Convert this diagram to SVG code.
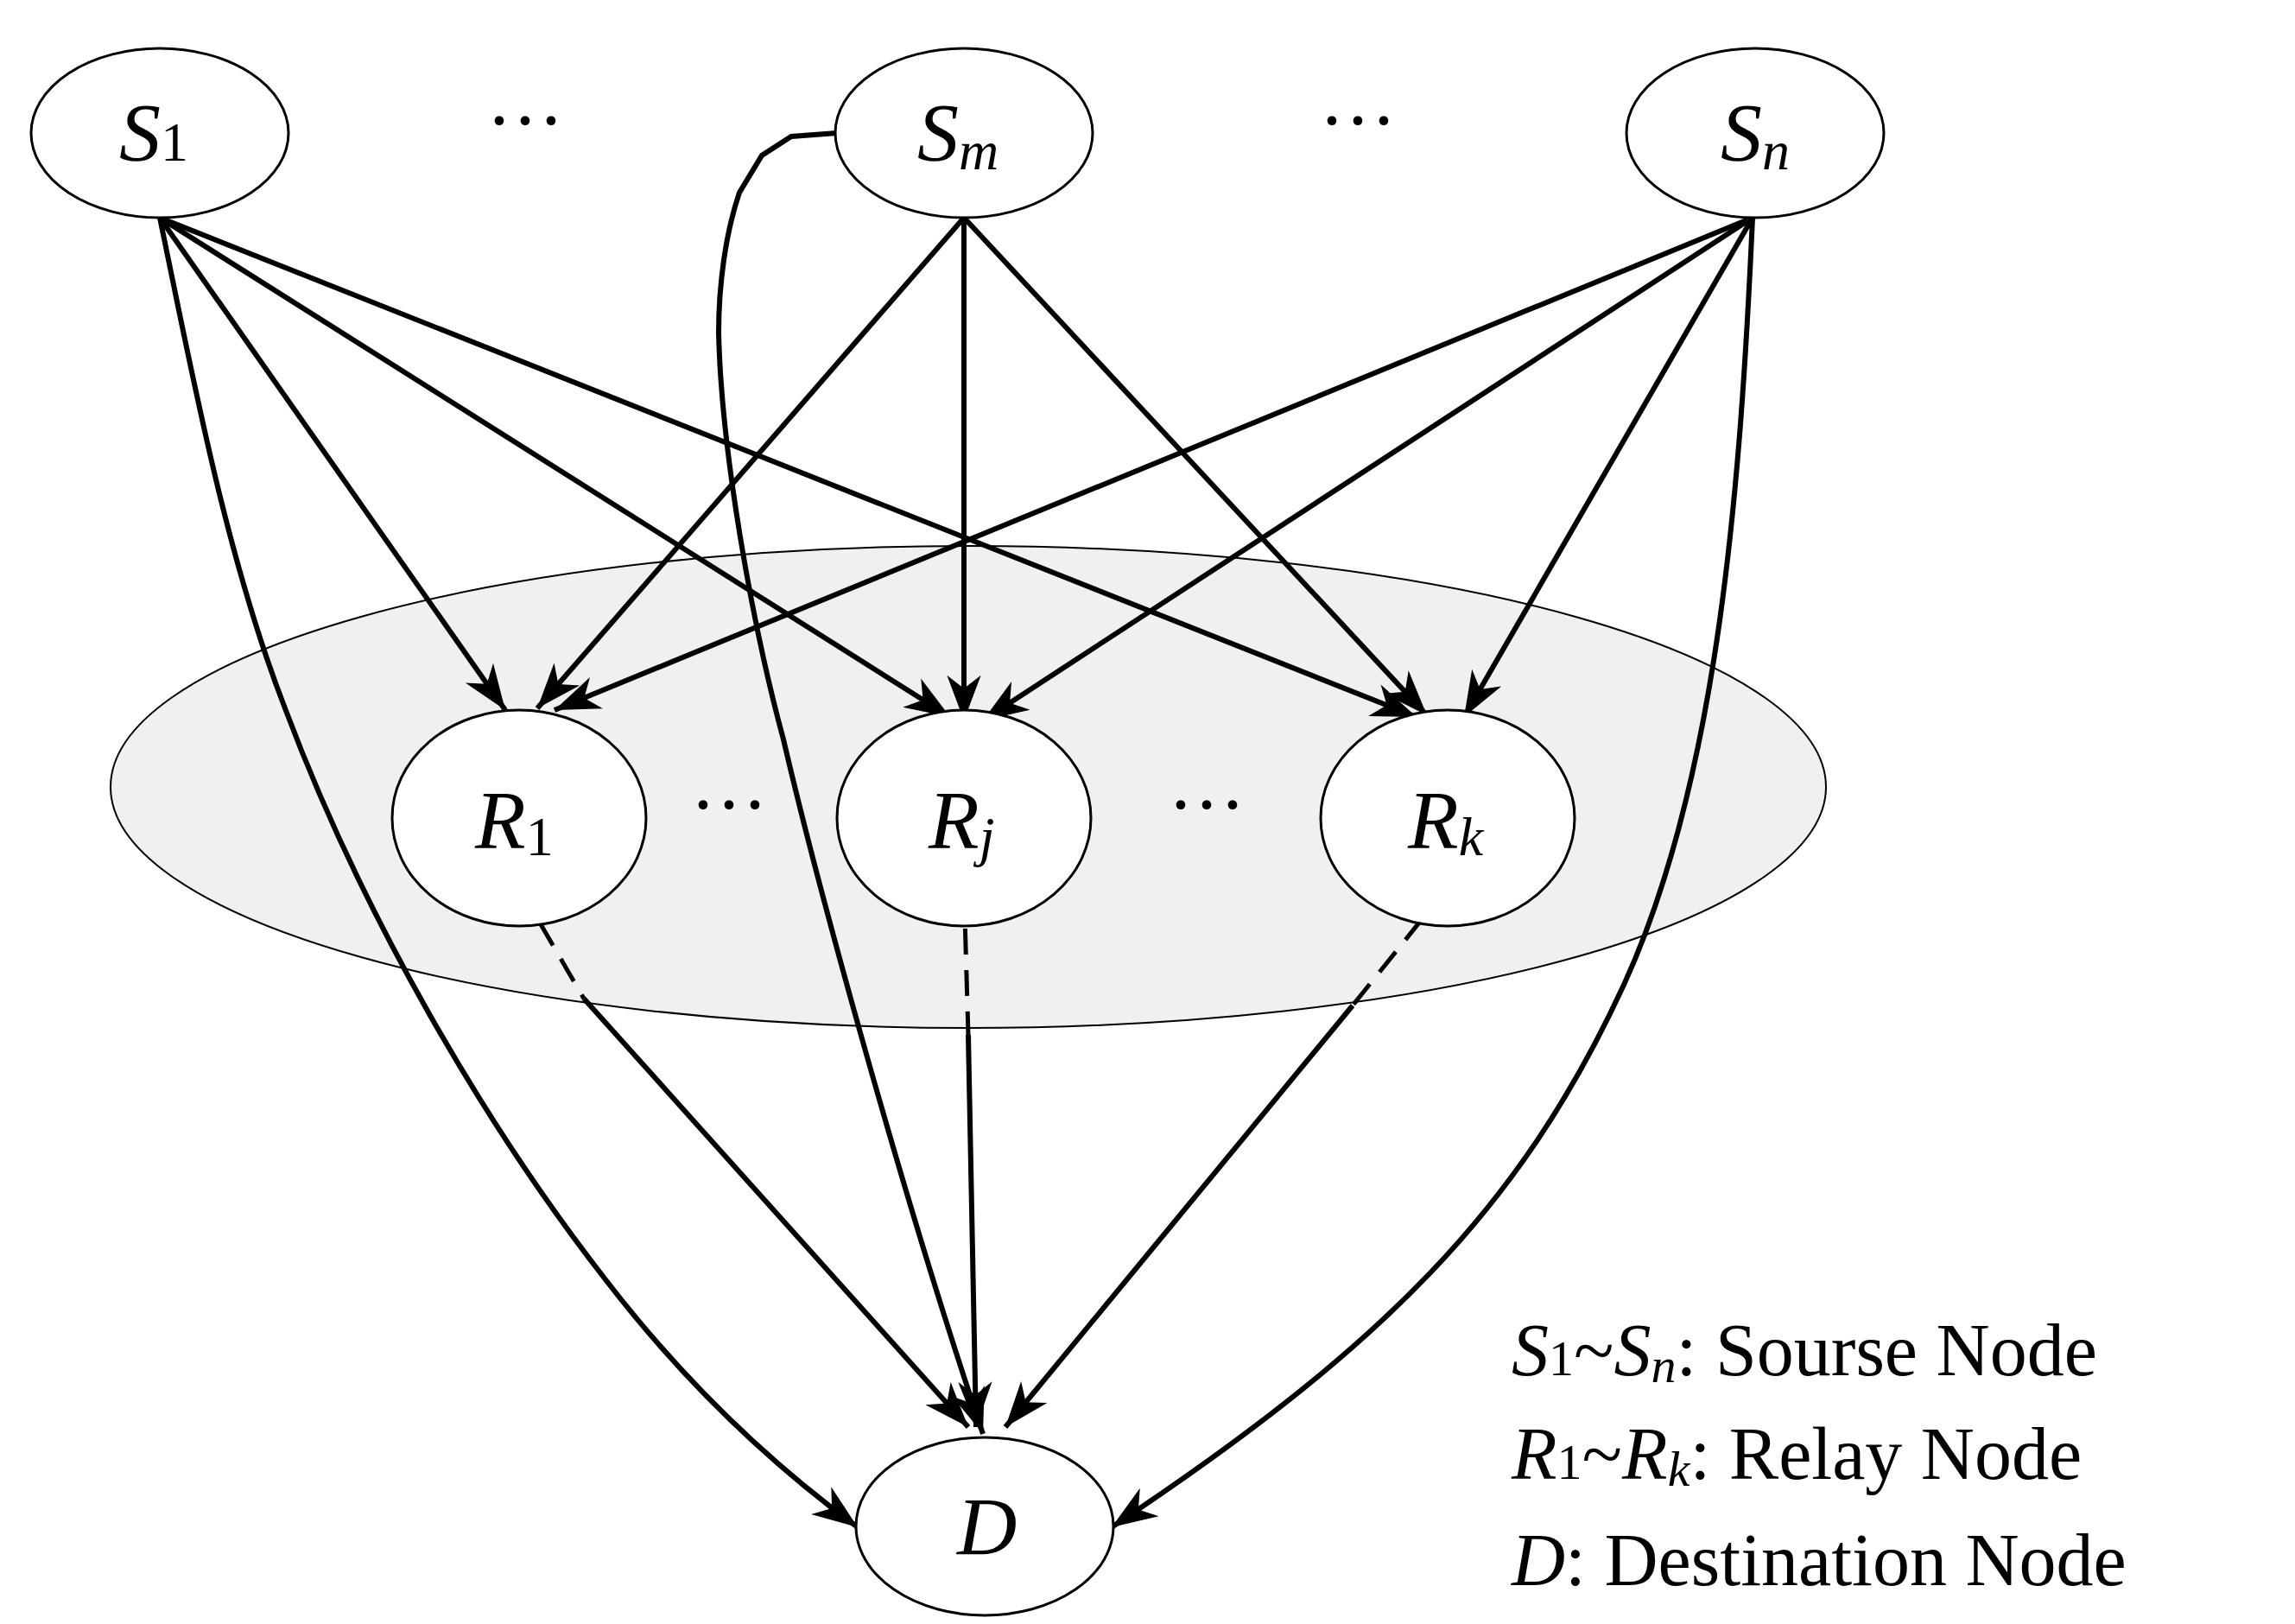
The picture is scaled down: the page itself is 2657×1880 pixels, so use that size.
<svg xmlns="http://www.w3.org/2000/svg" width="2657" height="1880" viewBox="0 0 2657 1880">
<style>
.n{fill:#fff;stroke:#000;stroke-width:3}
.t{font-family:"Liberation Serif",serif;font-size:96px;font-style:italic}
.s{font-size:64px}
.u{font-style:normal}
.e{fill:none;stroke:#000;stroke-width:6;marker-end:url(#a)}
.d{fill:none;stroke:#000;stroke-width:5;stroke-dasharray:30,18}
.dots{font-family:"Liberation Serif",serif;font-size:90px}
.lg{font-family:"Liberation Serif",serif;font-size:86px}
</style>
<defs>
<marker id="a" markerUnits="userSpaceOnUse" markerWidth="60" markerHeight="60" viewBox="-50 -25 55 50" refX="0" refY="0" orient="auto">
<path d="M0,0 L-48,-18 L-34,0 L-48,18 Z" fill="#000"/>
</marker>
</defs>
<g id="cluster"><ellipse cx="1121" cy="911" rx="993" ry="279" fill="#f0f0f0" stroke="#000" stroke-width="2"/></g>
<g id="connectors">
<path class="e" d="M185,252 L585,822"/>
<path class="e" d="M185,252 L1100,830"/>
<path class="e" d="M185,252 L1640,830"/>
<path class="e" d="M1116,252 L622,820"/>
<path class="e" d="M1116,252 L1116,834"/>
<path class="e" d="M1116,252 L1652,828"/>
<path class="e" d="M2029,252 L642,822"/>
<path class="e" d="M2029,252 L1138,834"/>
<path class="e" d="M2029,252 L1695,830"/>
<path class="e" d="M185,252 C220,420 260,640 330,820 C420,1060 560,1300 700,1480 C800,1610 900,1700 993,1768"/>
<path class="e" d="M2029,252 C2015,560 1990,900 1880,1140 C1760,1400 1600,1560 1287,1768"/>
<path class="e" d="M969,154 L916,158 L882,180 L856,223 C840,270 832,330 832,385 C835,520 870,720 907,856 C950,1040 1050,1400 1138,1660"/>
<path class="d" d="M601,1027 L676,1156"/>
<path class="e" d="M676,1156 L1121,1652"/>
<path class="d" d="M1116,1027 L1121,1198"/>
<path class="e" d="M1121,1198 L1130,1652"/>
<path class="d" d="M1676,1027 L1566,1164"/>
<path class="e" d="M1566,1164 L1164,1652"/>
</g>
<g id="S1"><ellipse class="n" cx="185" cy="154" rx="149" ry="98"/><text class="t" x="138" y="186">S<tspan class="s u">1</tspan></text></g>
<g id="Sm"><ellipse class="n" cx="1116" cy="154" rx="149" ry="98"/><text class="t" x="1062" y="186">S<tspan class="s" dy="10">m</tspan></text></g>
<g id="Sn"><ellipse class="n" cx="2032" cy="154" rx="149" ry="98"/><text class="t" x="1992" y="186">S<tspan class="s" dy="10">n</tspan></text></g>
<g id="R1"><ellipse class="n" cx="601" cy="947" rx="147" ry="125"/><text class="t" x="550" y="982">R<tspan class="s u" dy="8">1</tspan></text></g>
<g id="Rj"><ellipse class="n" cx="1116" cy="947" rx="147" ry="125"/><text class="t" x="1075" y="982">R<tspan class="s" dy="8">j</tspan></text></g>
<g id="Rk"><ellipse class="n" cx="1676" cy="947" rx="147" ry="125"/><text class="t" x="1630" y="982">R<tspan class="s" dy="8">k</tspan></text></g>
<g id="D"><ellipse class="n" cx="1140" cy="1767" rx="149" ry="103"/><text class="t" x="1108" y="1800">D</text></g>
<g id="dots">
<text class="dots" x="608" y="170" text-anchor="middle">···</text>
<text class="dots" x="1572" y="170" text-anchor="middle">···</text>
<text class="dots" x="844" y="962" text-anchor="middle">···</text>
<text class="dots" x="1397" y="962" text-anchor="middle">···</text>
</g>
<g id="legend">
<text class="lg" x="1750" y="1592"><tspan font-style="italic">S</tspan><tspan font-size="58">1</tspan>~<tspan font-style="italic">S</tspan><tspan font-size="58" font-style="italic" dy="8">n</tspan><tspan dy="-8">: Sourse Node</tspan></text>
<text class="lg" x="1750" y="1712"><tspan font-style="italic">R</tspan><tspan font-size="58">1</tspan>~<tspan font-style="italic">R</tspan><tspan font-size="58" font-style="italic" dy="8">k</tspan><tspan dy="-8">: Relay Node</tspan></text>
<text class="lg" x="1750" y="1835"><tspan font-style="italic">D</tspan>: Destination Node</text>
</g>
</svg>
